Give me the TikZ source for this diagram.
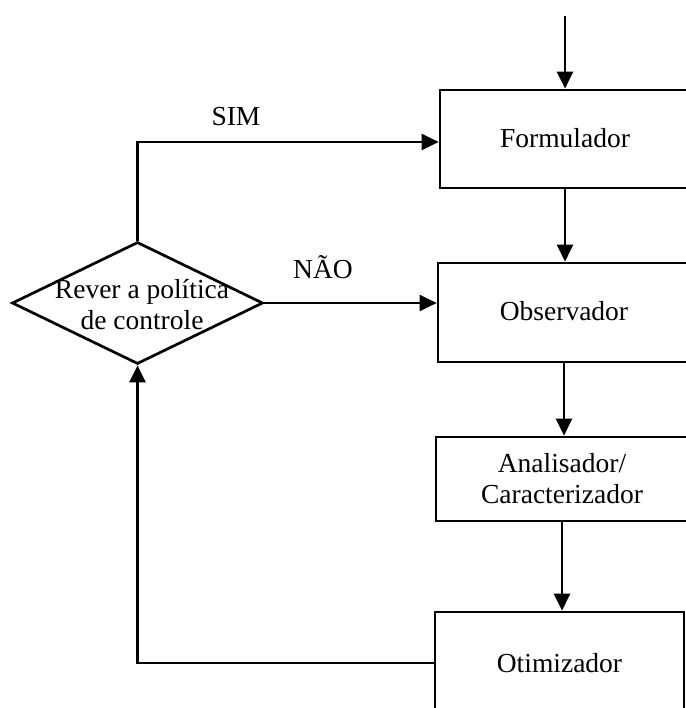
\documentclass[tikz,border=0pt]{standalone}
\usepackage{fontspec}
\setmainfont{Liberation Serif}
\usetikzlibrary{arrows.meta,shapes.geometric}
\begin{document}
\begin{tikzpicture}[x=1pt,y=-1pt,
  every node/.style={font=\fontsize{27.5}{31}\selectfont},
  line/.style={line width=2.7pt},
  arr/.style={line, -{Triangle[length=17pt,width=16pt]}},
  stage/.style={draw, line width=2.7pt, rectangle, inner sep=0pt},
  decision/.style={draw, line width=2.7pt, diamond, inner sep=0pt,
    minimum width=251pt, minimum height=122pt},
  tag/.style={inner sep=1pt}]
  \useasboundingbox (0,0) rectangle (685,708);

  % stages of the control loop
  \node[stage, minimum width=250pt, minimum height=98pt]  (F)  at (565,139)   {\raisebox{3pt}{Formulador}};
  \node[stage, minimum width=252pt, minimum height=99pt]  (O)  at (564,312.5) {\raisebox{4pt}{Observador}};
  \node[stage, minimum width=252pt, minimum height=84pt, align=center]
                                                          (A)  at (562,479)   {Analisador/\\Caracterizador};
  \node[stage, minimum width=249pt, minimum height=102pt] (Ot) at (559.5,663) {Otimizador};

  % decision
  \node[decision] (D) at (137.5,303) {};
  \node[align=center, inner sep=0pt] (Dt) at (142,305) {Rever a política\\de controle};

  % entry
  \coordinate (in) at (565,16);
  \draw[arr] (in) -- (F.north);

  % main chain
  \draw[arr] (F.south) -- (O.north -| F.south);
  \draw[arr] (O.south) -- (A.north -| O.south);
  \draw[arr] (A.south) -- (Ot.north -| A.south);

  % feedback from the optimizer to the decision
  \draw[arr] (Ot.west) -| (D.south);

  % decision outcomes
  \coordinate (simcorner) at (137.5,142);
  \draw[arr] (D.north) -- (simcorner) -- (simcorner -| F.west);
  \draw[arr] (D.east) -- (D.east -| O.west);

  \node[tag] (sim) at (236,117) {SIM};
  \node[tag] (nao) at (323,267) {NÃO};
\end{tikzpicture}
\end{document}
